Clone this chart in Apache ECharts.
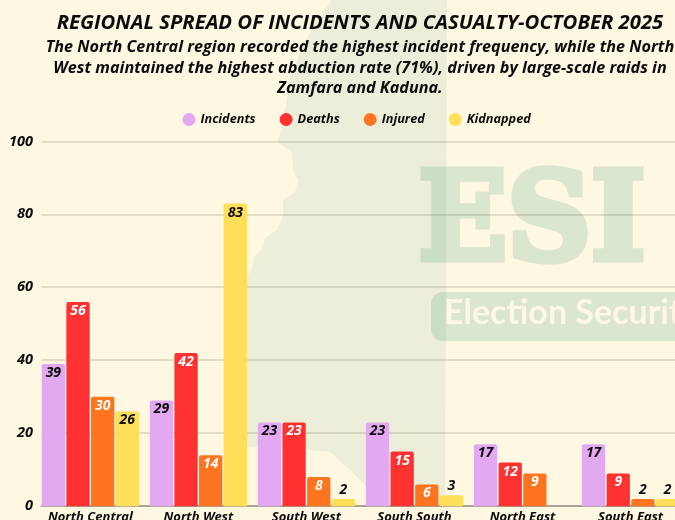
<!DOCTYPE html>
<html>
<head>
<meta charset="utf-8">
<script src="https://cdn.jsdelivr.net/npm/echarts@6/dist/echarts.min.js"></script>
<style>html,body{margin:0;padding:0;background:#FEF7E1;overflow:hidden}#c{width:675px;height:520px}</style>
</head>
<body>
<div id="c"></div>
<script>
const categories = ['North Central', 'North West', 'South West', 'South South', 'North East', 'South East'];
const incidents = [39, 29, 23, 23, 17, 17];
const deaths = [56, 42, 23, 15, 12, 9];
const injured = [30, 14, 8, 6, 9, 2];
const kidnapped = [26, 83, 2, 3, null, 2];
const yTicks = { min: 0, max: 100, interval: 20 };
const titleText = 'REGIONAL SPREAD OF INCIDENTS AND CASUALTY-OCTOBER 2025';
const subtitleText = 'The North Central region recorded the highest incident frequency, while the North\nWest maintained the highest abduction rate (71%), driven by large-scale raids in\nZamfara and Kaduna.';

const FONT = '"Open Sans", Lato, sans-serif';
const INK = '#0b0b0b';
const WM = '#DAE6CD';

function makeBar(name, values, color, insideColor) {
  return {
    name, type: 'bar', xAxisIndex: 0, yAxisIndex: 0,
    barWidth: 23.3, barGap: '5.8%',
    itemStyle: { color, borderRadius: [2, 2, 0, 0] },
    data: values.map(v => ({
      value: v,
      label: v !== null && v <= 3
        ? { show: true, position: 'top', distance: 2, color: INK }
        : { show: true, position: 'insideTop', distance: 2, color: insideColor }
    })),
    label: { show: true, fontFamily: FONT, fontStyle: 'italic', fontWeight: 'bold', fontSize: 14 }
  };
}

const chart = echarts.init(document.getElementById('c'), null, { renderer: 'canvas' });
chart.setOption({
  backgroundColor: '#FEF7E1',
  animation: false,
  title: {
    left: 355, top: 8, textAlign: 'center', itemGap: 4,
    text: titleText,
    textStyle: { fontFamily: FONT, fontStyle: 'italic', fontWeight: 'bold', fontSize: 20.3, color: INK },
    subtext: subtitleText,
    subtextStyle: { fontFamily: FONT, fontStyle: 'italic', fontWeight: 'bold', fontSize: 16.2, lineHeight: 20.7, color: INK }
  },
  legend: {
    left: 177.5, top: 108, icon: 'circle', itemWidth: 13, itemHeight: 13, itemGap: 24,
    textStyle: { fontFamily: FONT, fontStyle: 'italic', fontWeight: 'bold', fontSize: 12.7, color: INK }
  },
  grid: [
    { left: 36.3, width: 648.3, top: 141.5, height: 364.8, outerBoundsMode: 'none' },
    { left: 41.5, right: 0, top: 141.5, height: 364.3, outerBoundsMode: 'none' }
  ],
  xAxis: [
    {
      gridIndex: 0, type: 'category', data: categories,
      axisLine: { show: false }, axisTick: { show: false },
      axisLabel: { margin: 4, fontFamily: FONT, fontStyle: 'italic', fontWeight: 'bold', fontSize: 13, color: INK, interval: 0 }
    },
    {
      gridIndex: 1, type: 'category', data: categories,
      axisLine: { lineStyle: { color: '#a9a493', width: 2 } }, axisTick: { show: false }, axisLabel: { show: false }
    }
  ],
  yAxis: [
    { gridIndex: 0, type: 'value', min: yTicks.min, max: yTicks.max, interval: yTicks.interval, show: false, splitLine: { show: false } },
    {
      gridIndex: 1, type: 'value', min: yTicks.min, max: yTicks.max, interval: yTicks.interval,
      axisLine: { show: false }, axisTick: { show: false },
      axisLabel: { margin: 8.5, fontFamily: FONT, fontStyle: 'italic', fontWeight: 'bold', fontSize: 14.5, color: INK },
      splitLine: { lineStyle: { color: 'rgba(100,95,70,0.24)', width: 1.5 } }
    }
  ],
  series: [
    makeBar('Incidents', incidents, '#E2A9F1', INK),
    makeBar('Deaths', deaths, '#FF3131', '#fff'),
    makeBar('Injured', injured, '#FF751F', '#fff'),
    makeBar('Kidnapped', kidnapped, '#FFDE59', INK)
  ],
  graphic: [
    { type: 'rect', z: -30, silent: true, shape: { x: 431, y: 292, width: 260, height: 49, r: 12 }, style: { fill: WM } },
    {
      type: 'text', z: -29, silent: true, x: 444, y: 313,
      style: { text: 'Election Security', fill: '#FDF7E4', font: 'bold 34px Lato, sans-serif', textVerticalAlign: 'middle' }
    },
    {
      type: 'text', z: -30, silent: true, x: 532, y: 227, scaleX: 0.855, scaleY: 0.9,
      style: { text: 'ESI', fill: WM, stroke: WM, lineWidth: 8, lineJoin: 'miter', font: 'bold 136px "DejaVu Serif", serif', textAlign: 'center', textVerticalAlign: 'middle' }
    },
    {
      type: 'polygon', z: -20, silent: true,
      shape: { points: [
        [332,0],[317,20],[302,47],[288,87],[287,100],[278,142],[292,153],[293,170],[298,180],[295,192],[283,200],
        [283,217],[277,230],[265,238],[263,248],[255,257],[252,268],[247,276],[247,447],[280,447],[330,452],[347,467],
        [363,483],[373,493],[395,506],[445,506],[447,0]
      ] },
      style: { fill: '#EDF6F6', blend: 'multiply' }
    }
  ]
});
</script>
</body>
</html>
